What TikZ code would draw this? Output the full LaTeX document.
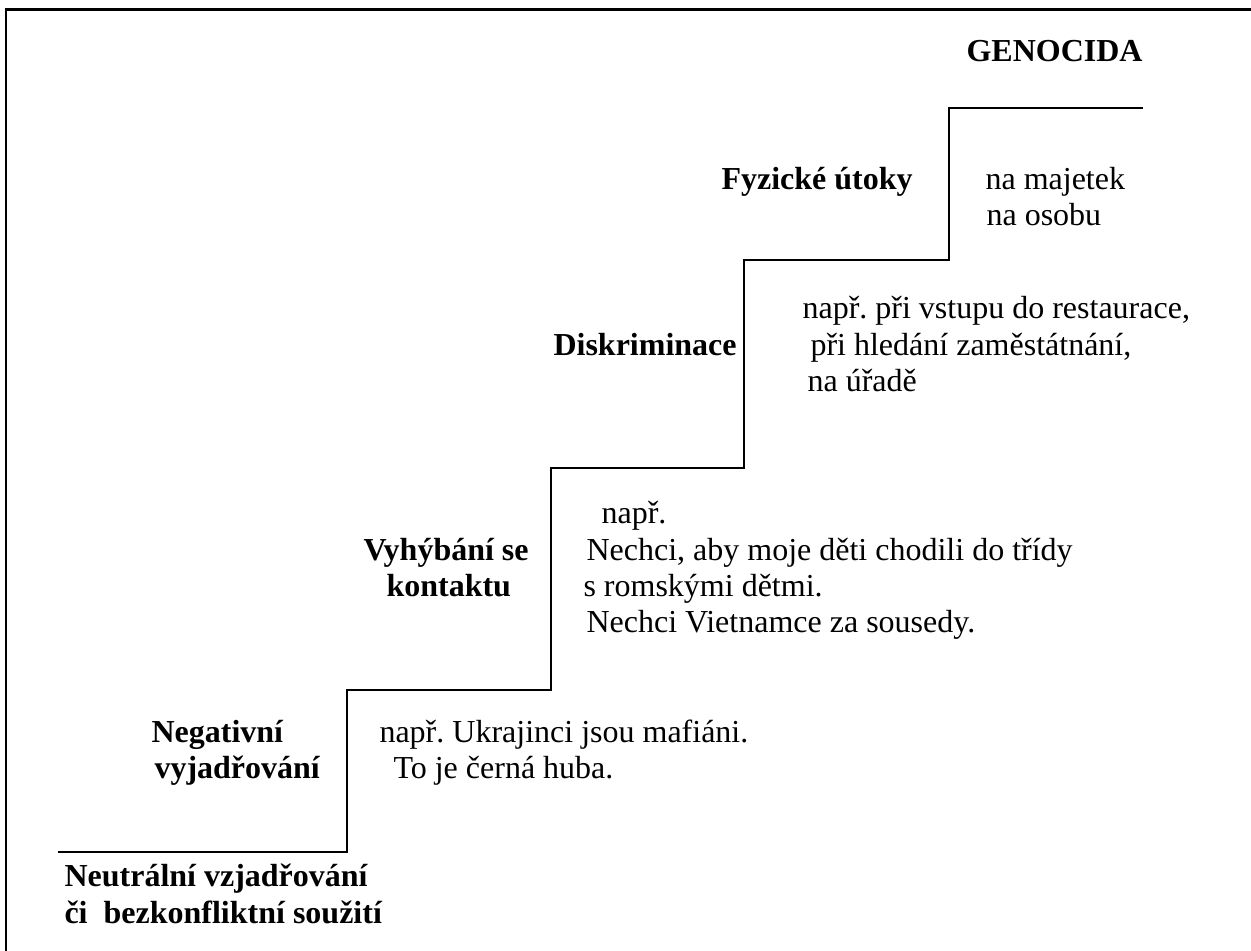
\documentclass[tikz,border=0pt]{standalone}
\usepackage{fontspec}
\setmainfont{Liberation Serif}
\frenchspacing
\tikzset{
  lbl/.style={anchor=base west, inner sep=0pt, font=\fontsize{12}{14}\selectfont\bfseries},
  txt/.style={anchor=base west, inner sep=0pt, font=\fontsize{12}{14}\selectfont},
  stair/.style={line width=0.75pt, line join=miter},
  frame/.style={line width=0.95pt}
}
\begin{document}
\begin{tikzpicture}[x=0.375pt,y=-0.375pt]
\useasboundingbox (0,0) rectangle (1251,951);
% frame (top and left only)
\draw[frame] (6,951) -- (6,9.5) -- (1251,9.5);
% staircase
\draw[stair] (58,852) -- (347,852) -- (347,690) -- (551,690) -- (551,468)
  -- (744,468) -- (744,260) -- (949,260) -- (949,108) -- (1143,108);
% labels
\node[lbl] (gen) at (966,62) {GENOCIDA};
\node[lbl] (fyz) at (721,190) {Fyzické útoky};
\node[txt] (maj) at (985,190) {na majetek};
\node[txt] (oso) at (986,226) {na osobu};
\node[lbl] (disk) at (553,356) {Diskriminace};
\node[txt] (d1) at (802,319) {např. při vstupu do restaurace,};
\node[txt] (d2) at (810,356) {při hledání zaměstátnání,};
\node[txt] (d3) at (807,392) {na úřadě};
\node[lbl] (vyh1) at (363,560) {Vyhýbání se};
\node[lbl] (vyh2) at (386,596) {kontaktu};
\node[txt] (v0) at (601,523) {např.};
\node[txt] (v1) at (586,560) {Nechci, aby moje děti chodili do třídy};
\node[txt] (v2) at (583,596) {s romskými dětmi.};
\node[txt] (v3) at (586,632) {Nechci Vietnamce za sousedy.};
\node[lbl] (neg1) at (151,742) {Negativní};
\node[lbl] (neg2) at (154,778) {vyjadřování};
\node[txt] (n1) at (379,742) {např. Ukrajinci jsou mafiáni.};
\node[txt] (n2) at (393,778) {To je černá huba.};
\node[lbl] (neu1) at (64,886) {Neutrální vzjadřování};
\node[lbl] (neu2) at (64,923) {či\ \ bezkonfliktní soužití};
\end{tikzpicture}
\end{document}
